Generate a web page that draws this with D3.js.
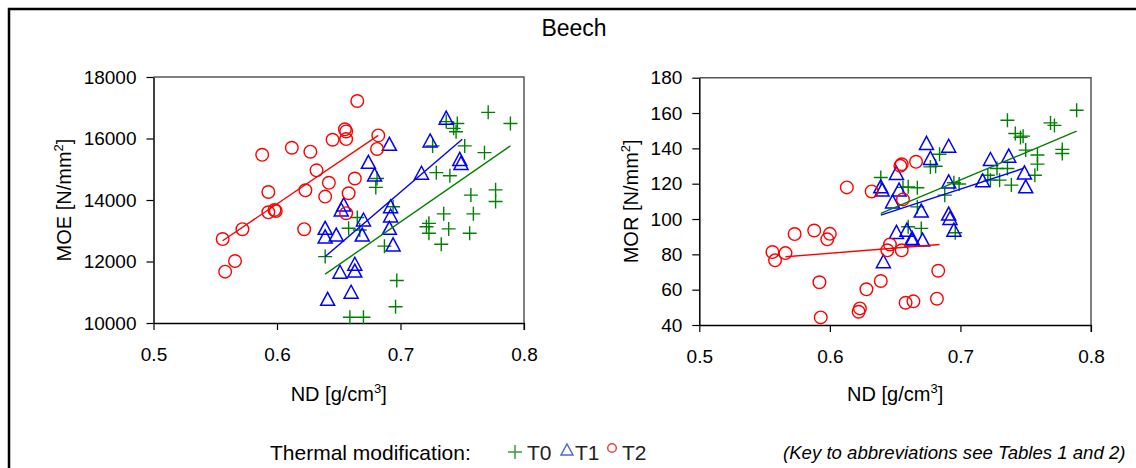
<!DOCTYPE html>
<html>
<head>
<meta charset="utf-8">
<script src="https://cdn.jsdelivr.net/npm/d3@7"></script>
<style>
  body { margin: 0; background: #fff; }
  svg { display: block; font-family: "Liberation Sans", Arial, sans-serif; }
</style>
</head>
<body>
<div id="page"></div>
<script>
// ND [g/cm3] vs MOE [N/mm2]
var moeT0 = [[0.771,16850],[0.789,16490],[0.737,16550],[0.746,16490],[0.743,16330],[0.745,16220],
  [0.752,15760],[0.726,15760],[0.768,15540],[0.729,14890],[0.740,14790],[0.757,14160],[0.777,14330],
  [0.777,13950],[0.735,13550],[0.759,13550],[0.723,13240],[0.721,13130],[0.723,12920],[0.739,13060],
  [0.733,12560],[0.756,12920],[0.697,11380],[0.696,10530],[0.687,12500],[0.694,13780],[0.681,14700],
  [0.680,14410],[0.665,13430],[0.658,13080],[0.667,13025],[0.639,12160],[0.659,10185],[0.670,10185]];
var moeT1 = [[0.737,16660],[0.724,15920],[0.691,15810],[0.748,15320],[0.749,15190],[0.674,15226],
  [0.679,14810],[0.717,14870],[0.654,13840],[0.652,13675],[0.670,13350],[0.692,13780],[0.692,13480],
  [0.691,13080],[0.694,12540],[0.669,12860],[0.639,13080],[0.639,12800],[0.648,12860],[0.663,11910],
  [0.663,11690],[0.651,11650],[0.660,11000],[0.641,10770]];
var moeT2 = [[0.665,17220],[0.655,16300],[0.656,16230],[0.656,15980],[0.682,16100],[0.681,15660],
  [0.645,15960],[0.612,15700],[0.627,15570],[0.588,15470],[0.632,14965],[0.642,14560],[0.663,14700],
  [0.593,14260],[0.623,14315],[0.639,14110],[0.658,14220],[0.593,13600],[0.598,13675],[0.599,13640],
  [0.656,13570],[0.572,13050],[0.556,12730],[0.622,13050],[0.566,12016],[0.558,11670]];

// ND [g/cm3] vs MOR [N/mm2]
var morT0 = [[0.639,123.5],[0.660,118.2],[0.667,117.7],[0.667,106.9],[0.660,95.6],[0.670,94.7],
  [0.677,129.5],[0.684,136.7],[0.681,129.9],[0.656,117.9],[0.695,120.5],[0.699,119.8],[0.688,113.5],
  [0.696,92.2],[0.736,155.9],[0.742,148.4],[0.746,146.2],[0.748,146.9],[0.769,154.4],[0.772,153.0],
  [0.789,161.6],[0.750,139.0],[0.759,136.2],[0.759,131.1],[0.778,139.4],[0.778,137.1],[0.728,128.6],
  [0.736,128.6],[0.721,124.8],[0.723,122.0],[0.730,122.0],[0.739,119.2],[0.757,124.8]];
var morT1 = [[0.674,142.8],[0.677,134.3],[0.651,125.8],[0.639,118.2],[0.640,116.4],[0.653,116.4],
  [0.648,109.7],[0.670,104.5],[0.651,92.4],[0.659,93.7],[0.663,89.0],[0.663,88.1],[0.671,88.1],
  [0.641,75.8],[0.691,141.2],[0.691,121.0],[0.691,102.8],[0.692,100.3],[0.695,93.7],[0.723,133.7],
  [0.737,135.6],[0.717,121.6],[0.749,126.1],[0.750,118.2]];
var morT2 = [[0.654,130.1],[0.655,131.0],[0.666,132.4],[0.613,117.9],[0.632,115.6],[0.656,111.1],
  [0.573,91.5],[0.588,93.5],[0.600,91.6],[0.598,88.5],[0.646,85.6],[0.644,82.3],[0.655,82.3],
  [0.556,81.3],[0.558,76.6],[0.566,80.7],[0.592,64.2],[0.639,64.9],[0.628,60.2],[0.623,49.4],
  [0.622,47.5],[0.593,44.3],[0.658,52.6],[0.664,53.4],[0.683,70.7],[0.682,54.9]];

// fitted lines, end points
var moeFitT0 = [[0.639,11590],[0.789,15760]];
var moeFitT1 = [[0.639,12160],[0.750,15975]];
var moeFitT2 = [[0.556,12676],[0.682,16100]];
var morFitT0 = [[0.639,103.2],[0.789,149.7]];
var morFitT1 = [[0.639,102.2],[0.748,128.6]];
var morFitT2 = [[0.566,78.6],[0.684,85.6]];

var xTicks = [0.5, 0.6, 0.7, 0.8];
var moeTicks = [10000, 12000, 14000, 16000, 18000];
var morTicks = [40, 60, 80, 100, 120, 140, 160, 180];
var groups = ['T0', 'T1', 'T2'];

var colors = {'T0': '#008000', 'T1': '#0000ff', 'T2': '#ff0000'};

var svg = d3.select("#page").append("svg")
    .attr("width", 1136)
    .attr("height", 468);

// frame round the figure (only top and left show)
svg.append("path")
    .attr("d", "M9,468V9H1136")
    .attr("fill", "none")
    .attr("stroke", "#000")
    .attr("stroke-width", 2.5);

svg.append("text")
    .attr("x", 574).attr("y", 36)
    .attr("text-anchor", "middle")
    .style("font-size", "23px")
    .text("Beech");

var drawPanel = function(opt) {
  var x = d3.scaleLinear().domain([0.5, 0.8]).range([opt.left, opt.right]),
      y = d3.scaleLinear().domain(opt.yDomain).range([opt.bottom, opt.top]);

  var g = svg.append("g");

  // top and right border
  g.append("path")
      .attr("d", "M" + opt.left + "," + opt.top + "H" + opt.right + "V" + (opt.bottom + 7))
      .attr("fill", "none")
      .attr("stroke", "#555")
      .attr("stroke-width", 1.5);

  var xAxis = g.append("g")
      .attr("transform", "translate(0," + opt.bottom + ")")
      .call(d3.axisBottom(x).tickValues(xTicks).tickFormat(d3.format(".1f"))
        .tickSize(7).tickSizeOuter(0).tickPadding(18));

  var yAxis = g.append("g")
      .attr("transform", "translate(" + opt.left + ",0)")
      .call(d3.axisLeft(y).tickValues(opt.yTicks).tickFormat(d3.format("d"))
        .tickSize(7).tickSizeOuter(0).tickPadding(10));

  [xAxis, yAxis].forEach(function(a) {
    a.select(".domain").attr("stroke", "#000").attr("stroke-width", 1.5);
    a.selectAll(".tick line").attr("stroke", "#000").attr("stroke-width", 1.2);
    a.selectAll(".tick text")
        .attr("fill", "#000")
        .style("font-size", "19px")
        .style("font-family", "'Liberation Sans', Arial, sans-serif");
  });

  var xl = g.append("text")
      .attr("x", (opt.left + opt.right) / 2).attr("y", 401)
      .attr("text-anchor", "middle")
      .style("font-size", "20px");
  xl.append("tspan").text("ND [g/cm");
  xl.append("tspan").attr("dy", -8).style("font-size", "13px").text("3");
  xl.append("tspan").attr("dy", 8).text("]");

  var cy = (opt.top + opt.bottom) / 2;
  var yl = g.append("text")
      .attr("transform", "translate(" + opt.labelX + "," + cy + ") rotate(-90)")
      .attr("text-anchor", "middle")
      .style("font-size", "20px");
  yl.append("tspan").text(opt.label + " [N/mm");
  yl.append("tspan").attr("dy", -8).style("font-size", "13px").text("2");
  yl.append("tspan").attr("dy", 8).text("]");

  var line = d3.line()
      .x(function(d) { return x(d[0]); })
      .y(function(d) { return y(d[1]); });

  // markers: T0 on the bottom, then T1, then T2
  g.selectAll("path.t0")
      .data(opt.series[0])
    .enter().append("path")
      .attr("class", "t0")
      .attr("d", "M-7,0H7M0,-7V7")
      .attr("transform", function(d) { return "translate(" + x(d[0]) + "," + y(d[1]) + ")"; })
      .attr("stroke", colors.T0)
      .attr("stroke-width", 1.4)
      .attr("fill", "none");

  g.selectAll("path.t1")
      .data(opt.series[1])
    .enter().append("path")
      .attr("class", "t1")
      .attr("d", "M0,-7L7,6H-7Z")
      .attr("transform", function(d) { return "translate(" + x(d[0]) + "," + y(d[1]) + ")"; })
      .attr("stroke", colors.T1)
      .attr("stroke-width", 1.5)
      .attr("fill", "none");

  g.selectAll("circle.t2")
      .data(opt.series[2])
    .enter().append("circle")
      .attr("class", "t2")
      .attr("cx", function(d) { return x(d[0]); })
      .attr("cy", function(d) { return y(d[1]); })
      .attr("r", 6.3)
      .attr("stroke", colors.T2)
      .attr("stroke-width", 1.4)
      .attr("fill", "none");

  opt.fits.forEach(function(f, i) {
    g.append("path")
        .attr("d", line(f))
        .attr("stroke", colors[groups[i]])
        .attr("stroke-width", 1.4)
        .attr("fill", "none");
  });
};

drawPanel({
  left: 153.5, right: 524, top: 77, bottom: 323,
  yDomain: [10000, 18000], yTicks: moeTicks,
  label: "MOE", labelX: 71,
  series: [moeT0, moeT1, moeT2],
  fits: [moeFitT0, moeFitT1, moeFitT2]
});

drawPanel({
  left: 699.3, right: 1091, top: 77.7, bottom: 325,
  yDomain: [40, 180], yTicks: morTicks,
  label: "MOR", labelX: 638,
  series: [morT0, morT1, morT2],
  fits: [morFitT0, morFitT1, morFitT2]
});

// legend
var legend = svg.append("g").style("font-size", "21px");
legend.append("text").attr("x", 270).attr("y", 460).text("Thermal modification:");

legend.append("path")
    .attr("d", "M508,452H522M515,445V459")
    .attr("stroke", "#3a9a3a").attr("stroke-width", 1.5).attr("fill", "none");
legend.append("text").attr("x", 527).attr("y", 460).attr("fill", "#222").text("T0");

legend.append("path")
    .attr("d", "M567,444L573,455H561Z")
    .attr("stroke", "#4a6ad0").attr("stroke-width", 1.5).attr("fill", "none");
legend.append("text").attr("x", 575).attr("y", 460).attr("fill", "#222").text("T1");

legend.append("circle")
    .attr("cx", 612).attr("cy", 448).attr("r", 4.3)
    .attr("stroke", "#f04040").attr("stroke-width", 1.5).attr("fill", "none");
legend.append("text").attr("x", 622).attr("y", 460).attr("fill", "#222").text("T2");

svg.append("text")
    .attr("x", 783).attr("y", 459)
    .style("font-size", "18.6px")
    .style("font-style", "italic")
    .text("(Key to abbreviations see Tables 1 and 2)");
</script>
</body>
</html>
